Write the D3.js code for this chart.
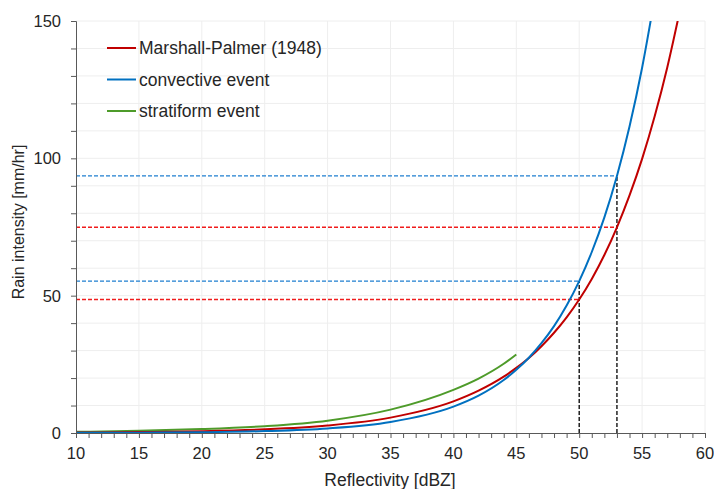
<!DOCTYPE html>
<html>
<head>
<meta charset="utf-8">
<script src="https://cdn.jsdelivr.net/npm/d3@7"></script>
<style>
  body { margin: 0; background: #fff; }
  svg text { font-family: "Liberation Sans", Arial, sans-serif; fill: #262626; }
</style>
</head>
<body>
<svg id="chart" width="714" height="489"></svg>
<script>
// values
var mpDbz   = [10, 15, 20, 25, 30, 35, 40, 42, 44, 45, 46, 47, 48, 49, 50, 51, 52, 53, 54, 55, 56, 57, 58];
var mpRain  = [0.15, 0.32, 0.65, 1.33, 2.73, 5.6, 11.5, 15.4, 20.5, 23.7, 27.3, 31.6, 36.5, 42.1, 48.6, 56.1, 64.8, 74.9, 86.5, 99.8, 115.3, 133.1, 153.7];
var convDbz  = [10, 15, 20, 25, 30, 35, 40, 42, 44, 45, 46, 47, 48, 49, 50, 51, 52, 53, 54, 55, 56];
var convRain = [0.05, 0.12, 0.29, 0.69, 1.65, 4.0, 9.6, 13.6, 19.3, 23.0, 27.4, 32.7, 38.9, 46.4, 55.3, 65.9, 78.5, 93.6, 111.6, 133.0, 158.5];
var stratDbz  = [10, 15, 20, 25, 30, 35, 40, 42, 44, 45];
var stratRain = [0.43, 0.79, 1.43, 2.5, 4.5, 8.5, 15.7, 19.8, 25.2, 28.6];
// marked reflectivities and read-off intensities
var markDbz  = [50, 53];
var markMp   = [48.6, 74.9];
var markConv = [55.3, 93.6];

var seriesNames = ["Marshall-Palmer (1948)", "convective event", "stratiform event"];
var seriesColors = ["#c00000", "#0070c0", "#4e9b2a"];
var xTicks = [10, 15, 20, 25, 30, 35, 40, 45, 50, 55, 60];
var yTicks = [0, 50, 100, 150];

var svg = d3.select("#chart");
var pLeft = 76, pRight = 705, pTop = 21, pBottom = 433;

var x = d3.scaleLinear().domain([10, 60]).range([pLeft, pRight]);
var y = d3.scaleLinear().domain([0, 150]).range([pBottom, pTop]);

// grid
var grid = svg.append("g");
grid.selectAll("line.gx").data(d3.range(15, 61, 5)).enter().append("line")
    .attr("x1", function (d) { return x(d); })
    .attr("x2", function (d) { return x(d); })
    .attr("y1", pTop).attr("y2", pBottom)
    .attr("stroke", "#eeeeee").attr("stroke-width", 1);
grid.selectAll("line.gy").data(d3.range(10, 151, 10)).enter().append("line")
    .attr("x1", pLeft).attr("x2", pRight)
    .attr("y1", function (d) { return y(d); })
    .attr("y2", function (d) { return y(d); })
    .attr("stroke", "#eeeeee").attr("stroke-width", 1);

svg.append("clipPath").attr("id", "plotclip")
    .append("rect").attr("x", pLeft).attr("y", pTop)
    .attr("width", pRight - pLeft).attr("height", pBottom - pTop);

// dashed helper lines
var dash = svg.append("g").attr("stroke-dasharray", "4,2").attr("stroke-width", 1.3).attr("fill", "none");
markDbz.forEach(function (d, i) {
    dash.append("line").attr("x1", x(10)).attr("x2", x(d))
        .attr("y1", y(markConv[i])).attr("y2", y(markConv[i]))
        .attr("stroke", "#1f7fd0");
    dash.append("line").attr("x1", x(10)).attr("x2", x(d))
        .attr("y1", y(markMp[i])).attr("y2", y(markMp[i]))
        .attr("stroke", "#f01c1c");
    dash.append("line").attr("x1", x(d)).attr("x2", x(d))
        .attr("y1", y(0)).attr("y2", y(markConv[i]))
        .attr("stroke", "#000");
});

// curves
var line = d3.line()
    .x(function (d) { return x(d[0]); })
    .y(function (d) { return y(d[1]); })
    .curve(d3.curveMonotoneX);

var series = [d3.zip(mpDbz, mpRain), d3.zip(convDbz, convRain), d3.zip(stratDbz, stratRain)];
var curves = svg.append("g").attr("clip-path", "url(#plotclip)");
// stratiform first, then MP, convective on top
[2, 0, 1].forEach(function (i) {
    curves.append("path").datum(series[i])
        .attr("d", line)
        .attr("fill", "none")
        .attr("stroke", seriesColors[i])
        .attr("stroke-width", 2);
});

// axes
var xAxis = svg.append("g").attr("transform", "translate(0," + pBottom + ")");
xAxis.call(d3.axisBottom(x).tickValues(d3.range(10, 61, 1)).tickSize(5).tickFormat(""));
xAxis.selectAll(".tick line").attr("stroke", "#595959");
xAxis.select(".domain").attr("stroke", "#595959");
xAxis.selectAll("text.lbl").data(xTicks).enter().append("text")
    .attr("class", "lbl")
    .attr("x", function (d) { return x(d); })
    .attr("y", 26)
    .attr("text-anchor", "middle")
    .style("font-size", "16.5px")
    .text(function (d) { return d; });

var yAxis = svg.append("g").attr("transform", "translate(" + pLeft + ",0)");
yAxis.call(d3.axisLeft(y).tickValues(d3.range(0, 151, 10)).tickSize(5).tickFormat(""));
yAxis.selectAll(".tick line").attr("stroke", "#595959");
yAxis.select(".domain").attr("stroke", "#595959");
yAxis.selectAll("text.lbl").data(yTicks).enter().append("text")
    .attr("class", "lbl")
    .attr("x", -15)
    .attr("y", function (d) { return y(d) + 6; })
    .attr("text-anchor", "end")
    .style("font-size", "16.5px")
    .text(function (d) { return d; });

svg.append("text")
    .attr("x", 390).attr("y", 486)
    .attr("text-anchor", "middle")
    .style("font-size", "17.5px")
    .text("Reflectivity [dBZ]");

svg.append("text")
    .attr("transform", "translate(24,222) rotate(-90)")
    .attr("text-anchor", "middle")
    .style("font-size", "16px")
    .text("Rain intensity [mm/hr]");

// legend
var legend = svg.append("g");
seriesNames.forEach(function (name, i) {
    var ly = 48 + i * 31.5;
    legend.append("line").attr("x1", 107).attr("x2", 136)
        .attr("y1", ly).attr("y2", ly)
        .attr("stroke", seriesColors[i]).attr("stroke-width", 2);
    legend.append("text").attr("x", 139).attr("y", ly + 6)
        .style("font-size", "17.5px")
        .text(name);
});
</script>
</body>
</html>
